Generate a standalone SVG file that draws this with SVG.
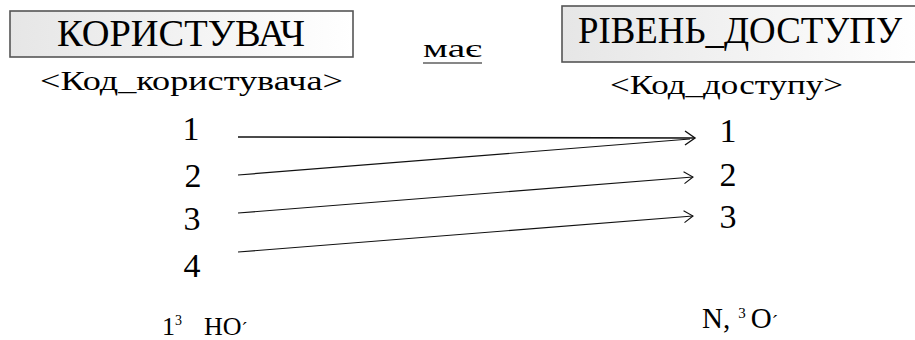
<svg xmlns="http://www.w3.org/2000/svg" width="915" height="340" viewBox="0 0 915 340">
<defs>
<linearGradient id="g" x1="0" y1="0" x2="1" y2="0">
<stop offset="0" stop-color="#e6e6e6"/>
<stop offset="1" stop-color="#ffffff"/>
</linearGradient>
<marker id="ah" markerWidth="14" markerHeight="18" refX="11" refY="8" orient="auto" markerUnits="userSpaceOnUse">
<path d="M1,1 L11,8 L1,15" fill="none" stroke="#111" stroke-width="1.4"/>
</marker>
<marker id="ah2" markerWidth="14" markerHeight="16" refX="10" refY="7" orient="auto" markerUnits="userSpaceOnUse">
<path d="M1,1 L10,7 L1,13" fill="none" stroke="#111" stroke-width="1.1"/>
</marker>
</defs>
<g id="node-korystuvach">
<rect fill="url(#g)" stroke="#555" stroke-width="1.6" x="10" y="11" width="343" height="46"/>
<text font-family="serif" font-size="37" x="57" y="46" textLength="248" lengthAdjust="spacingAndGlyphs">КОРИСТУВАЧ</text>
<text font-family="serif" font-size="28" x="40" y="90" textLength="303" lengthAdjust="spacingAndGlyphs">&lt;Код_користувача&gt;</text>
<text font-family="serif" font-size="34" text-anchor="middle" x="191" y="140">1</text>
<text font-family="serif" font-size="34" text-anchor="middle" x="193" y="187">2</text>
<text font-family="serif" font-size="34" text-anchor="middle" x="192" y="230">3</text>
<text font-family="serif" font-size="34" text-anchor="middle" x="192" y="277">4</text>
<text font-family="serif" font-size="26" x="162" y="335">1<tspan font-size="14" dy="-10">3</tspan><tspan dy="10" dx="22">HO</tspan><tspan font-size="18">´</tspan></text>
</g>
<g id="node-riven">
<rect fill="url(#g)" stroke="#555" stroke-width="1.6" x="562" y="6" width="360" height="56"/>
<text font-family="serif" font-size="37" x="578" y="43" textLength="324" lengthAdjust="spacingAndGlyphs">РІВЕНЬ_ДОСТУПУ</text>
<text font-family="serif" font-size="28" x="610" y="94" textLength="233" lengthAdjust="spacingAndGlyphs">&lt;Код_доступу&gt;</text>
<text font-family="serif" font-size="34" text-anchor="middle" x="728" y="142">1</text>
<text font-family="serif" font-size="34" text-anchor="middle" x="728" y="186">2</text>
<text font-family="serif" font-size="34" text-anchor="middle" x="728" y="228">3</text>
<text font-family="serif" font-size="29" x="702" y="328">N,<tspan font-size="15" dy="-10" dx="8">3</tspan><tspan dy="10" dx="5">O</tspan><tspan font-size="19">´</tspan></text>
</g>
<g id="label-maye">
<text font-family="serif" font-size="25" x="423" y="57" textLength="59" lengthAdjust="spacingAndGlyphs">має</text>
<line x1="423" y1="63" x2="482" y2="63" stroke="#111" stroke-width="1.2"/>
</g>
<g id="connectors" stroke="#111" fill="none" stroke-width="1.2">
<line x1="238" y1="137" x2="695" y2="138" stroke-width="1.6" marker-end="url(#ah)"/>
<line x1="238" y1="175" x2="690" y2="139"/>
<line x1="238" y1="213" x2="693" y2="177" marker-end="url(#ah2)"/>
<line x1="238" y1="252" x2="693" y2="216" marker-end="url(#ah2)"/>
</g>
</svg>
